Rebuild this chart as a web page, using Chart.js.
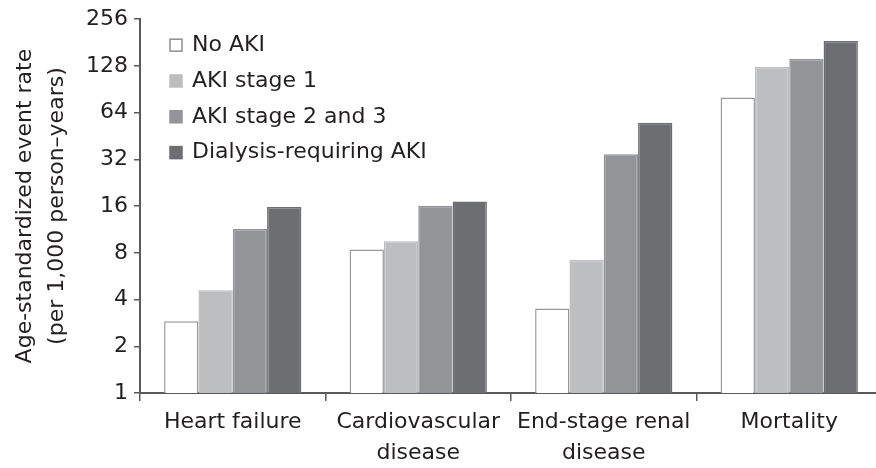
<!DOCTYPE html>
<html>
<head>
<meta charset="utf-8">
<script src="https://cdn.jsdelivr.net/npm/chart.js@4.4.1/dist/chart.umd.min.js"></script>
<style>
  body { margin: 0; background: #fff; overflow: hidden; }
  /* the original x axis runs a few pixels past the right edge, so the canvas is a bit wider than the window */
  #wrap { width: 876px; height: 468px; overflow: hidden; }
</style>
</head>
<body>
<div id="wrap"><canvas id="rates" width="882" height="468"></canvas></div>
<script>
// values (log2 axis)
const categories = [['Heart failure'], ['Cardiovascular', 'disease'], ['End-stage renal', 'disease'], ['Mortality']];
const seriesNames = ['No AKI', 'AKI stage 1', 'AKI stage 2 and 3', 'Dialysis-requiring AKI'];
const noAki = [2.9, 8.4, 3.5, 80];
const akiStage1 = [4.6, 9.5, 7.2, 126];
const akiStage23 = [11.4, 16.1, 34.5, 142];
const dialysisAki = [15.8, 17.1, 55, 185];
const yTicks = [1, 2, 4, 8, 16, 32, 64, 128, 256];
const yTitle = ['Age-standardized event rate', '(per 1,000 person\u2013years)'];

const FONT = "'DejaVu Sans', 'Liberation Sans', Arial, sans-serif";
const TEXT = '#231f20';
const AXIS = '#5a5a5c';
const fills = ['#ffffff', '#bdbec0', '#939497', '#6d6e71'];
const edges = ['#98999b', '#bdbec0', '#939497', '#6d6e71'];

// legend drawn inside the plot, top left, as in the original
const boxLegend = {
    id: 'boxLegend',
    afterDraw(chart) {
        const ctx = chart.ctx;
        const area = chart.chartArea;
        const x0 = area.left + 30;
        const y0 = area.top + 26;
        const step = 35.8;
        const box = 12;
        ctx.save();
        ctx.font = '22px ' + FONT;
        ctx.textBaseline = 'middle';
        chart.data.datasets.forEach((ds, i) => {
            const y = y0 + i * step;
            ctx.fillStyle = ds.backgroundColor;
            ctx.fillRect(x0, y - box / 2, box, box);
            ctx.strokeStyle = i === 0 ? '#8e8f91' : ds.borderColor;
            ctx.lineWidth = 1.5;
            ctx.strokeRect(x0, y - box / 2, box, box);
            ctx.fillStyle = TEXT;
            ctx.fillText(ds.label, x0 + 22, y);
        });
        ctx.restore();
    }
};

const seriesValues = [noAki, akiStage1, akiStage23, dialysisAki];

const ctx = document.getElementById('rates').getContext('2d');
new Chart(ctx, {
    type: 'bar',
    data: {
        labels: categories,
        datasets: seriesValues.map((vals, i) => ({
            label: seriesNames[i],
            data: vals,
            backgroundColor: fills[i],
            borderColor: edges[i],
            borderWidth: 1.5,
            categoryPercentage: 0.74,
            barPercentage: 1.0
        }))
    },
    options: {
        responsive: false,
        animation: false,
        layout: { padding: { top: 16, right: 0, left: 0, bottom: 0 } },
        plugins: {
            legend: { display: false },
            tooltip: { enabled: false }
        },
        scales: {
            x: {
                grid: { offset: true, drawOnChartArea: false, tickLength: 8, color: AXIS, lineWidth: 1.5 },
                border: { color: AXIS, width: 2 },
                ticks: {
                    color: TEXT,
                    font: { family: FONT, size: 22, lineHeight: 1.4 },
                    padding: 6,
                    maxRotation: 0,
                    autoSkip: false
                },
                afterFit: (scale) => { scale.height = 75; }
            },
            y: {
                type: 'logarithmic',
                min: 1,
                max: 256,
                afterBuildTicks: (scale) => { scale.ticks = yTicks.map(v => ({ value: v })); },
                afterFit: (scale) => { scale.width = 140; },
                border: { color: AXIS, width: 2 },
                grid: { drawOnChartArea: false, tickLength: 6, color: AXIS, lineWidth: 1.5 },
                ticks: {
                    color: TEXT,
                    font: { family: FONT, size: 22 },
                    padding: 6,
                    autoSkip: false,
                    callback: (v) => String(v)
                },
                title: {
                    display: true,
                    text: yTitle,
                    color: TEXT,
                    font: { family: FONT, size: 22, lineHeight: 1.45 },
                    padding: { top: 9, bottom: 0 }
                }
            }
        }
    },
    plugins: [boxLegend]
});
</script>
</body>
</html>
